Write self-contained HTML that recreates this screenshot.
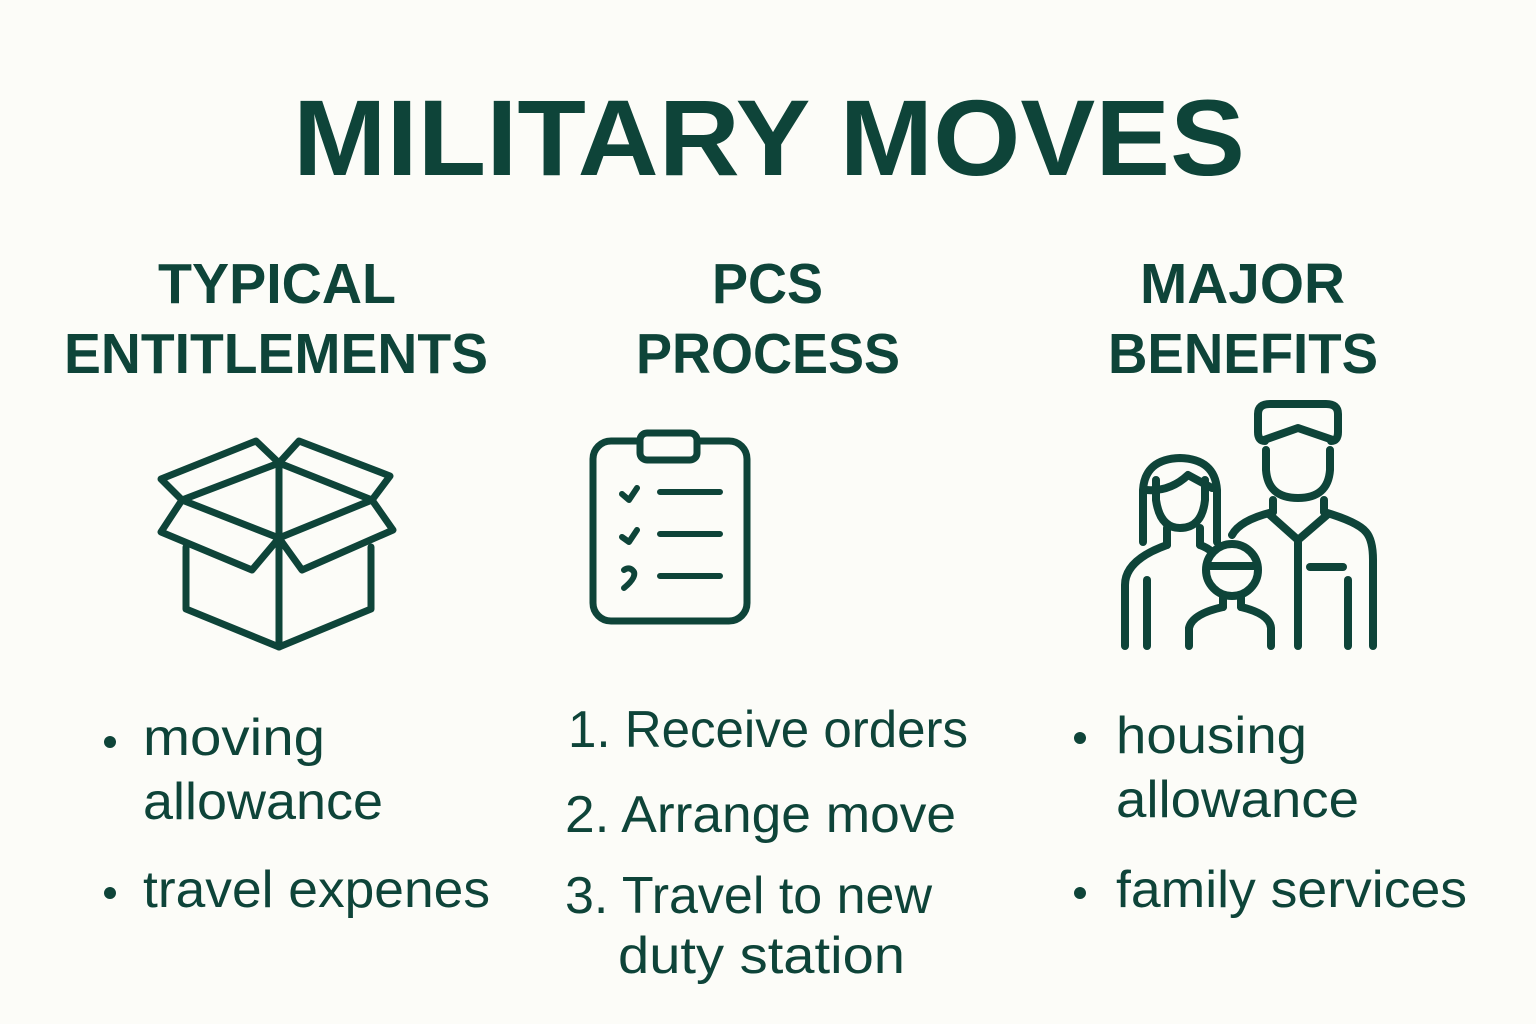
<!DOCTYPE html>
<html><head><meta charset="utf-8"><style>
html,body{margin:0;padding:0;background:#fcfcf8;}
svg{display:block;}
text{font-family:"Liberation Sans",sans-serif;fill:#0e4439;}
</style></head><body>
<svg width="1536" height="1024" viewBox="0 0 1536 1024" xmlns="http://www.w3.org/2000/svg">
<rect width="1536" height="1024" fill="#fcfcf8"/>
<text x="293" y="175" font-size="108" font-weight="bold" textLength="952" lengthAdjust="spacingAndGlyphs">MILITARY MOVES</text>

<g font-size="57" font-weight="bold">
<text x="158" y="303" textLength="238" lengthAdjust="spacingAndGlyphs">TYPICAL</text>
<text x="64" y="373" textLength="424" lengthAdjust="spacingAndGlyphs">ENTITLEMENTS</text>
<text x="712" y="303" textLength="111" lengthAdjust="spacingAndGlyphs">PCS</text>
<text x="636" y="373" textLength="264" lengthAdjust="spacingAndGlyphs">PROCESS</text>
<text x="1140" y="303" textLength="205" lengthAdjust="spacingAndGlyphs">MAJOR</text>
<text x="1108" y="373" textLength="270" lengthAdjust="spacingAndGlyphs">BENEFITS</text>
</g>

<g fill="none" stroke="#0e4439" stroke-width="7" stroke-linejoin="round" stroke-linecap="round">
<!-- box -->
<path d="M279 463 L182 500 L279 538 L372 500 Z"/>
<path d="M279 463 L279 647"/>
<path d="M182 500 L161 479 L256 441 L279 463 L299 441 L390 476 L372 500"/>
<path d="M182 500 L161 532 L252 570 L279 538 L302 570 L393 530 L372 500"/>
<path d="M186 547 L186 609 L279 647 L371 609 L371 547"/>
<!-- clipboard -->
<rect x="593" y="441" width="154" height="180" rx="18"/>
<rect x="640" y="433" width="57" height="27" rx="7" fill="#fcfcf8"/>
<path d="M660 492 H720 M660 534 H720 M660 576 H720" stroke-width="6"/>
<path d="M622 494 L629 500 L637 488 M622 537 L629 542 L637 530" stroke-width="6"/>
<path d="M624 570 Q630 566 634 572 Q636 578 624 588" stroke-width="6"/>
<!-- family -->
<g stroke-width="8">
<!-- man -->
<path d="M1265 441 Q1258 441 1258 432 L1258 414 Q1258 404 1270 404 L1326 404 Q1338 404 1338 414 L1338 432 Q1338 441 1331 441"/>
<path d="M1264 440 L1298 428 L1333 440"/>
<path d="M1266 450 L1266 470 Q1268 498 1298 498 Q1328 498 1330 470 L1330 450"/>
<path d="M1273 500 L1273 512 M1324 500 L1324 512"/>
<path d="M1232 535 Q1240 520 1273 512 M1324 512 Q1358 522 1366 532 Q1373 540 1373 560 L1373 646"/>
<path d="M1270 515 L1298 540 L1327 515"/>
<path d="M1298 540 L1298 646"/>
<path d="M1310 567 L1343 567"/>
<path d="M1348 580 L1348 646"/>
<!-- woman -->
<path d="M1143 542 L1143 490 Q1145 459 1180 458 Q1215 459 1217 490 L1217 542"/>
<path d="M1146 490 Q1170 492 1188 475 L1212 488"/>
<path d="M1156 480 L1156 500 Q1160 528 1180 528 Q1202 528 1205 500 L1205 480"/>
<path d="M1167 528 L1167 545 M1200 528 L1200 545"/>
<path d="M1125 646 L1125 585 Q1125 560 1167 545 M1200 545 Q1208 548 1212 552"/>
<path d="M1147 580 L1147 646"/>
<!-- child -->
<circle cx="1232" cy="570" r="26"/>
<path d="M1207 566 L1257 566"/>
<path d="M1223 595 L1223 607 M1241 595 L1241 607"/>
<path d="M1189 646 L1189 628 Q1192 614 1223 607 M1241 607 Q1270 614 1271 628 L1271 646"/>
</g>
</g>

<g fill="#0e4439">
<circle cx="110" cy="742" r="6"/><circle cx="110" cy="893" r="6"/>
<circle cx="1080" cy="738" r="6"/><circle cx="1080" cy="893" r="6"/>
</g>
<g font-size="52">
<text x="143" y="755" textLength="182" lengthAdjust="spacingAndGlyphs">moving</text>
<text x="143" y="819" textLength="240" lengthAdjust="spacingAndGlyphs">allowance</text>
<text x="143" y="907" textLength="347" lengthAdjust="spacingAndGlyphs">travel expenes</text>
<text x="568" y="747" textLength="400" lengthAdjust="spacingAndGlyphs">1. Receive orders</text>
<text x="565" y="832" textLength="391" lengthAdjust="spacingAndGlyphs">2. Arrange move</text>
<text x="565" y="913" textLength="367" lengthAdjust="spacingAndGlyphs">3. Travel to new</text>
<text x="618" y="973" textLength="287" lengthAdjust="spacingAndGlyphs">duty station</text>
<text x="1116" y="753" textLength="191" lengthAdjust="spacingAndGlyphs">housing</text>
<text x="1116" y="817" textLength="243" lengthAdjust="spacingAndGlyphs">allowance</text>
<text x="1116" y="907" textLength="351" lengthAdjust="spacingAndGlyphs">family services</text>
</g>
</svg>
</body></html>
